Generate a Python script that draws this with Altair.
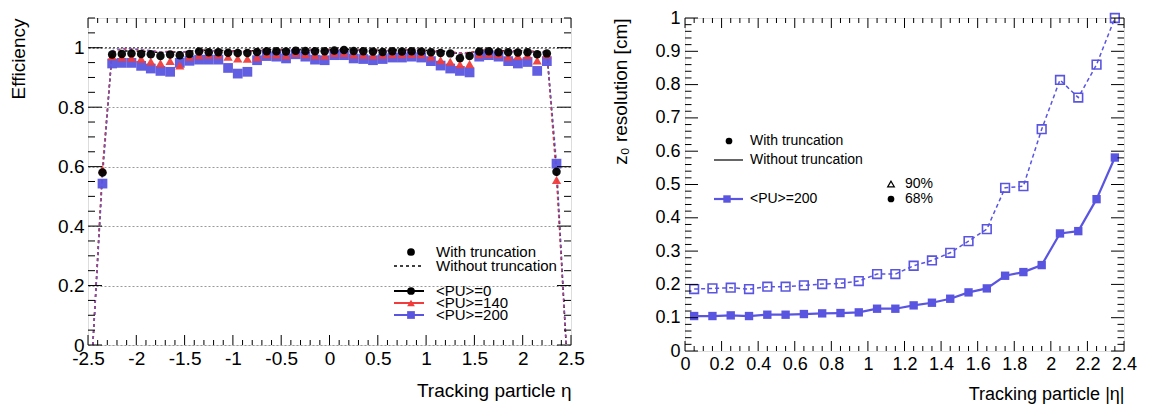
import altair as alt
import pandas as pd

FONT = "Liberation Sans"
BLACK = "#000000"
RED = "#f03c3c"
BLUE = "#5a55e0"

# ---------------- left panel: efficiency vs eta ----------------
eta_bins = [-2.45, -2.35, -2.25, -2.15, -2.05, -1.95, -1.85, -1.75, -1.65, -1.55,
            -1.45, -1.35, -1.25, -1.15, -1.05, -0.95, -0.85, -0.75, -0.65, -0.55,
            -0.45, -0.35, -0.25, -0.15, -0.05, 0.05, 0.15, 0.25, 0.35, 0.45,
            0.55, 0.65, 0.75, 0.85, 0.95, 1.05, 1.15, 1.25, 1.35, 1.45,
            1.55, 1.65, 1.75, 1.85, 1.95, 2.05, 2.15, 2.25, 2.35, 2.45]

# with truncation (markers)
eff_pu0_trunc = [None, 0.580, 0.977, 0.979, 0.981, 0.979, 0.978, 0.972, 0.977, 0.975,
                 0.979, 0.987, 0.985, 0.985, 0.983, 0.982, 0.982, 0.986, 0.988, 0.988,
                 0.987, 0.990, 0.989, 0.988, 0.988, 0.991, 0.992, 0.989, 0.988, 0.987,
                 0.986, 0.988, 0.987, 0.988, 0.987, 0.985, 0.982, 0.981, 0.965, 0.972,
                 0.987, 0.988, 0.985, 0.985, 0.984, 0.985, 0.978, 0.981, 0.583, None]
eff_pu140_trunc = [None, 0.590, 0.971, 0.968, 0.966, 0.963, 0.954, 0.948, 0.955, 0.940,
                   0.970, 0.975, 0.976, 0.976, 0.970, 0.964, 0.963, 0.968, 0.978, 0.977,
                   0.975, 0.982, 0.978, 0.975, 0.974, 0.982, 0.982, 0.977, 0.976, 0.975,
                   0.976, 0.978, 0.978, 0.979, 0.978, 0.970, 0.958, 0.953, 0.944, 0.945,
                   0.978, 0.980, 0.978, 0.970, 0.972, 0.975, 0.957, 0.977, 0.555, None]
eff_pu200_trunc = [None, 0.543, 0.947, 0.949, 0.949, 0.939, 0.930, 0.922, 0.919, 0.949,
                   0.956, 0.960, 0.960, 0.960, 0.932, 0.913, 0.919, 0.958, 0.972, 0.970,
                   0.964, 0.978, 0.970, 0.960, 0.958, 0.975, 0.975, 0.964, 0.962, 0.958,
                   0.962, 0.967, 0.967, 0.970, 0.967, 0.955, 0.940, 0.930, 0.922, 0.917,
                   0.970, 0.975, 0.970, 0.955, 0.947, 0.952, 0.922, 0.955, 0.610, None]
# without truncation (dashed lines)
eff_pu0_notrunc = [0.0, 0.585, 0.985, 0.988, 0.990, 0.988, 0.987, 0.983, 0.986, 0.985,
                   0.988, 0.992, 0.991, 0.991, 0.990, 0.989, 0.989, 0.991, 0.993, 0.993,
                   0.992, 0.994, 0.993, 0.992, 0.992, 0.994, 0.995, 0.993, 0.992, 0.992,
                   0.991, 0.992, 0.992, 0.993, 0.992, 0.990, 0.989, 0.988, 0.978, 0.982,
                   0.991, 0.992, 0.990, 0.990, 0.990, 0.990, 0.986, 0.988, 0.588, 0.0]
eff_pu140_notrunc = [0.0, 0.595, 0.988, 0.995, 0.996, 0.992, 0.990, 0.986, 0.988, 0.984,
                     0.988, 0.991, 0.990, 0.990, 0.989, 0.988, 0.988, 0.990, 0.992, 0.992,
                     0.991, 0.993, 0.992, 0.991, 0.991, 0.993, 0.994, 0.992, 0.991, 0.991,
                     0.990, 0.991, 0.991, 0.992, 0.991, 0.989, 0.987, 0.986, 0.983, 0.984,
                     0.990, 0.991, 0.989, 0.988, 0.989, 0.989, 0.985, 0.988, 0.560, 0.0]
eff_pu200_notrunc = [0.0, 0.560, 0.990, 0.997, 0.997, 0.993, 0.990, 0.986, 0.986, 0.985,
                     0.987, 0.990, 0.989, 0.989, 0.987, 0.986, 0.986, 0.989, 0.991, 0.991,
                     0.990, 0.992, 0.991, 0.990, 0.990, 0.992, 0.993, 0.991, 0.990, 0.990,
                     0.989, 0.990, 0.990, 0.991, 0.990, 0.988, 0.985, 0.984, 0.981, 0.980,
                     0.989, 0.990, 0.988, 0.986, 0.987, 0.987, 0.983, 0.986, 0.615, 0.0]

left_series = ["<PU>=0", "<PU>=140", "<PU>=200"]
left_colors = [BLACK, RED, BLUE]
left_shapes = ["circle", "triangle-up", "square"]
left_x_ticks = [-2.5, -2, -1.5, -1, -0.5, 0, 0.5, 1, 1.5, 2, 2.5]
left_y_ticks = [0, 0.2, 0.4, 0.6, 0.8, 1]
left_legend_labels = ["With truncation", "Without truncation", "<PU>=0", "<PU>=140", "<PU>=200"]

# ---------------- right panel: z0 resolution vs |eta| ----------------
abseta_bins = [0.05, 0.15, 0.25, 0.35, 0.45, 0.55, 0.65, 0.75, 0.85, 0.95, 1.05, 1.15,
               1.25, 1.35, 1.45, 1.55, 1.65, 1.75, 1.85, 1.95, 2.05, 2.15, 2.25, 2.35]
z0_res_68 = [0.105, 0.105, 0.107, 0.105, 0.109, 0.109, 0.111, 0.113, 0.114, 0.116, 0.127, 0.127,
             0.137, 0.145, 0.157, 0.176, 0.188, 0.226, 0.237, 0.258, 0.353, 0.360, 0.456, 0.581]
z0_res_90 = [0.186, 0.188, 0.190, 0.186, 0.193, 0.193, 0.197, 0.201, 0.203, 0.210, 0.231, 0.231,
             0.256, 0.272, 0.295, 0.330, 0.366, 0.490, 0.495, 0.666, 0.814, 0.761, 0.860, 1.000]
right_x_ticks = [0, 0.2, 0.4, 0.6, 0.8, 1, 1.2, 1.4, 1.6, 1.8, 2, 2.2, 2.4]
right_y_ticks = [0, 0.1, 0.2, 0.3, 0.4, 0.5, 0.6, 0.7, 0.8, 0.9, 1]
right_legend_labels = ["With truncation", "Without truncation", "<PU>=200", "90%", "68%"]

# ---------------- layout constants ----------------
LW, LH = 483, 327
RW, RH = 439, 333

xs_left = alt.Scale(domain=[-2.5, 2.5], nice=False, zero=False)
ys_left = alt.Scale(domain=[0, 1.1], nice=False, zero=False)
xs_right = alt.Scale(domain=[0, 2.4], nice=False, zero=False)
ys_right = alt.Scale(domain=[0, 1.0], nice=False, zero=False)


def minor_ticks(lo, hi, step, majors):
    n = int(round((hi - lo) / step))
    vals = [round(lo + i * step, 4) for i in range(n + 1)]
    return [v for v in vals if all(abs(v - m) > 1e-6 for m in majors)]


def tick_layers(values, channel, scale, W, H, length):
    base = alt.Chart(pd.DataFrame({"v": values})).mark_rule(color=BLACK, strokeWidth=1)
    if channel == "x":
        enc = alt.X("v:Q", scale=scale, axis=None)
        return [base.encode(x=enc, y=alt.value(H), y2=alt.value(H - length)),
                base.encode(x=enc, y=alt.value(0), y2=alt.value(length))]
    enc = alt.Y("v:Q", scale=scale, axis=None)
    return [base.encode(y=enc, x=alt.value(0), x2=alt.value(length)),
            base.encode(y=enc, x=alt.value(W), x2=alt.value(W - length))]


def one(d=None):
    return pd.DataFrame(d if d else {"k": [0]})


def leg_text(label, x, y, size):
    return alt.Chart(one({"t": [label]})).mark_text(
        align="left", baseline="middle", font=FONT, fontSize=size, color=BLACK
    ).encode(x=alt.value(x), y=alt.value(y), text="t:N")


def leg_line(x1, x2, y, color, width, dash=None):
    kw = dict(color=color, strokeWidth=width)
    if dash:
        kw["strokeDash"] = dash
    return alt.Chart(one()).mark_rule(**kw).encode(x=alt.value(x1), x2=alt.value(x2), y=alt.value(y))


def leg_point(x, y, shape, color, size, filled=True):
    return alt.Chart(one()).mark_point(shape=shape, color=color, filled=filled, size=size,
                                       opacity=1, strokeWidth=1.2).encode(
        x=alt.value(x), y=alt.value(y))


# ---------------- left panel ----------------
rows = []
for s, tr, nt in [(left_series[0], eff_pu0_trunc, eff_pu0_notrunc),
                  (left_series[1], eff_pu140_trunc, eff_pu140_notrunc),
                  (left_series[2], eff_pu200_trunc, eff_pu200_notrunc)]:
    for e, a, b in zip(eta_bins, tr, nt):
        rows.append({"eta": e, "series": s, "trunc": a, "notrunc": b})
left_df = pd.DataFrame(rows)

axis_x_left = alt.Axis(values=left_x_ticks, labelExpr="toString(datum.value)", ticks=False, domain=False,
                       grid=False, labelFont=FONT, labelFontSize=19, labelColor=BLACK, labelPadding=4,
                       labelOverlap=False, labelFlush=False,
                       title="Tracking particle η", titleFont=FONT, titleFontSize=19,
                       titleFontWeight="normal", titleColor=BLACK, titleX=LW, titleY=45,
                       titleAlign="right", titleBaseline="middle")
axis_y_left = alt.Axis(values=left_y_ticks, labelExpr="toString(datum.value)", ticks=False, domain=False,
                       grid=True, gridDash=[2, 2], gridColor="#9a9a9a", gridWidth=1,
                       labelFont=FONT, labelFontSize=19, labelColor=BLACK, labelPadding=4,
                       labelOverlap=False, labelFlush=False,
                       title="Efficiency", titleFont=FONT, titleFontSize=19, titleFontWeight="normal",
                       titleColor=BLACK, titleAngle=270, titleX=-70, titleY=0,
                       titleAlign="right", titleBaseline="middle")

left_layers = []
# axes holder (invisible)
left_layers.append(alt.Chart(left_df).mark_point(opacity=0).encode(
    x=alt.X("eta:Q", scale=xs_left, axis=axis_x_left),
    y=alt.Y("notrunc:Q", scale=ys_left, axis=axis_y_left)))
left_layers.append(alt.Chart(pd.DataFrame({"v": [1.0]})).mark_rule(
    color="#333333", strokeDash=[2, 2], strokeWidth=1).encode(y=alt.Y("v:Q", scale=ys_left, axis=None)))

# dashed lines (without truncation)
for s, c, op in zip(left_series, left_colors, [1.0, 1.0, 0.7]):
    left_layers.append(alt.Chart(left_df).transform_filter(alt.datum.series == s).mark_line(
        color=c, strokeWidth=1.5, strokeDash=[3, 3], opacity=op, clip=True).encode(
        x=alt.X("eta:Q", scale=xs_left, axis=None),
        y=alt.Y("notrunc:Q", scale=ys_left, axis=None),
        order="eta:Q"))

# markers (with truncation), drawn blue, red, black
marker_sizes = {"<PU>=0": 72, "<PU>=140": 85, "<PU>=200": 95}
for s, c, sh in reversed(list(zip(left_series, left_colors, left_shapes))):
    left_layers.append(alt.Chart(left_df).transform_filter(
        (alt.datum.series == s) & alt.expr.isValid(alt.datum.trunc)).mark_point(
        shape=sh, color=c, filled=True, size=marker_sizes[s], opacity=0.95).encode(
        x=alt.X("eta:Q", scale=xs_left, axis=None),
        y=alt.Y("trunc:Q", scale=ys_left, axis=None)))

# frame ticks
left_layers += tick_layers(left_x_ticks, "x", xs_left, LW, LH, 10)
left_layers += tick_layers(minor_ticks(-2.5, 2.5, 0.1, left_x_ticks), "x", xs_left, LW, LH, 5)
left_layers += tick_layers(left_y_ticks, "y", ys_left, LW, LH, 14)
left_layers += tick_layers(minor_ticks(0, 1.1, 0.05, left_y_ticks), "y", ys_left, LW, LH, 7)

# legend
lx_sym, lx_txt, l1, l2 = 323, 348, 306, 336
ly = [234, 248, 273, 285, 297]
left_layers += [
    leg_point(lx_sym, ly[0], "circle", BLACK, 60),
    leg_text(left_legend_labels[0], lx_txt, ly[0], 15),
    leg_line(l1, l2 - 3, ly[1], BLACK, 1.5, [3, 3]),
    leg_text(left_legend_labels[1], lx_txt, ly[1], 15),
]
for i, (c, sh) in enumerate(zip(left_colors, left_shapes)):
    left_layers += [
        leg_line(l1, l2, ly[2 + i], c, 2),
        leg_point(lx_sym, ly[2 + i], sh, c, 60),
        leg_text(left_legend_labels[2 + i], lx_txt, ly[2 + i], 15),
    ]

left = alt.layer(*left_layers).resolve_axis(x="independent", y="independent").properties(width=LW, height=LH)

# ---------------- right panel ----------------
right_df = pd.DataFrame({"abseta": abseta_bins, "r68": z0_res_68, "r90": z0_res_90})

axis_x_right = alt.Axis(values=right_x_ticks, labelExpr="toString(datum.value)", ticks=False, domain=False,
                        grid=False, labelFont=FONT, labelFontSize=18, labelColor=BLACK, labelPadding=4,
                        labelOverlap=False, labelFlush=False,
                        title="Tracking particle |η|", titleFont=FONT, titleFontSize=18,
                        titleFontWeight="normal", titleColor=BLACK, titleX=RW, titleY=43,
                        titleAlign="right", titleBaseline="middle")
axis_y_right = alt.Axis(values=right_y_ticks, labelExpr="toString(datum.value)", ticks=False, domain=False,
                        grid=False, labelFont=FONT, labelFontSize=18, labelColor=BLACK, labelPadding=5,
                        labelOverlap=False, labelFlush=False,
                        title="z₀ resolution [cm]", titleFont=FONT, titleFontSize=19,
                        titleFontWeight="normal", titleColor=BLACK, titleAngle=270, titleX=-65,
                        titleY=0, titleAlign="right", titleBaseline="middle")

right_layers = []
right_layers.append(alt.Chart(right_df).mark_line(color=BLUE, strokeWidth=1.5, strokeDash=[4, 3]).encode(
    x=alt.X("abseta:Q", scale=xs_right, axis=axis_x_right),
    y=alt.Y("r90:Q", scale=ys_right, axis=axis_y_right)))
right_layers.append(alt.Chart(right_df).mark_line(color=BLUE, strokeWidth=2.2).encode(
    x=alt.X("abseta:Q", scale=xs_right, axis=None),
    y=alt.Y("r68:Q", scale=ys_right, axis=None)))
right_layers.append(alt.Chart(right_df).mark_point(shape="square", color=BLUE, filled=False,
                                                   size=75, strokeWidth=1.6, opacity=1).encode(
    x=alt.X("abseta:Q", scale=xs_right, axis=None),
    y=alt.Y("r90:Q", scale=ys_right, axis=None)))
right_layers.append(alt.Chart(right_df).mark_point(shape="square", color=BLUE, filled=True,
                                                   size=70, opacity=1).encode(
    x=alt.X("abseta:Q", scale=xs_right, axis=None),
    y=alt.Y("r68:Q", scale=ys_right, axis=None)))

right_layers += tick_layers(right_x_ticks, "x", xs_right, RW, RH, 10)
right_layers += tick_layers(minor_ticks(0, 2.4, 0.05, right_x_ticks), "x", xs_right, RW, RH, 5)
right_layers += tick_layers(right_y_ticks, "y", ys_right, RW, RH, 13)
right_layers += tick_layers(minor_ticks(0, 1.0, 0.02, right_y_ticks), "y", ys_right, RW, RH, 6.5)

rx_sym, rx_txt, r1, r2 = 44, 65, 29, 58
right_layers += [
    leg_point(rx_sym, 123, "circle", BLACK, 45),
    leg_text(right_legend_labels[0], rx_txt, 123, 14),
    leg_line(r1, r2, 142, BLACK, 1.2),
    leg_text(right_legend_labels[1], rx_txt, 142, 14),
    leg_line(r1, r2, 181, BLUE, 2.2),
    leg_point(rx_sym - 2, 181, "square", BLUE, 55),
    leg_text(right_legend_labels[2], rx_txt, 181, 14),
    leg_point(206, 166, "triangle-up", BLACK, 45, filled=False),
    leg_text(right_legend_labels[3], 220, 166, 14),
    leg_point(206, 181, "circle", BLACK, 45),
    leg_text(right_legend_labels[4], 220, 181, 14),
]

right = alt.layer(*right_layers).resolve_axis(x="independent", y="independent").properties(width=RW, height=RH)

chart = alt.hconcat(left, right, spacing=25).properties(padding=0).configure_view(
    stroke=BLACK, strokeWidth=1.5).configure(background="white")

chart.save("out.html", embed_options={"renderer": "svg", "actions": False})
